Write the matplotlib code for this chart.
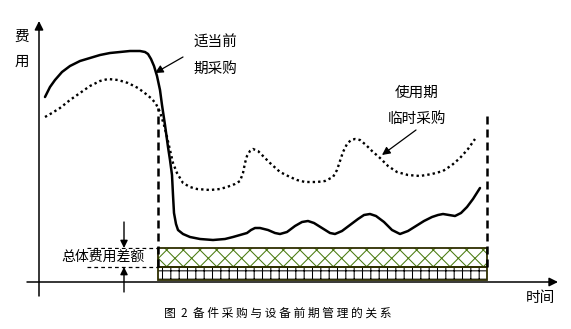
import matplotlib
matplotlib.use("Agg")
import matplotlib.pyplot as plt
from matplotlib.patches import Rectangle

plt.rcParams['font.family'] = ['Noto Sans CJK SC', 'DejaVu Sans']
plt.rcParams['hatch.linewidth'] = 0.75

# Cost with timely up-front procurement (solid curve)
t_early = [6, 11, 16, 23, 31, 41, 51, 61, 71, 81, 91, 101, 106, 109, 112, 115, 118,
           121, 123, 126, 129, 131, 133, 134, 135, 137, 139, 144, 151, 161, 174, 186,
           194, 201, 208, 212, 216, 221, 229, 236, 241, 248, 256, 263, 269, 275, 283,
           291, 296, 303, 311, 319, 325, 331, 337, 345, 353, 361, 369, 377, 385, 393,
           399, 404, 410, 416, 422, 428, 434, 441]
c_early = [185, 195, 202, 210, 216, 221, 224, 227, 229, 230, 231, 231, 230, 228, 223,
           216, 206, 192, 177, 157, 135, 122, 107, 87, 69, 58, 52, 48, 45, 43, 42, 43,
           45, 47, 49, 52, 54, 54, 52, 49, 48, 50, 56, 60, 61, 59, 54, 49, 48, 51, 57,
           63, 67, 68, 66, 60, 52, 48, 51, 56, 61, 65, 67, 68, 67, 66, 69, 75, 83, 94]

# Cost with ad-hoc purchasing during the usage period (dotted curve)
t_adhoc = [6, 13, 21, 31, 41, 51, 61, 69, 79, 89, 99, 107, 113, 117, 121, 125, 128,
           131, 134, 138, 144, 151, 158, 171, 181, 188, 196, 201, 204, 206, 208, 211,
           214, 219, 224, 231, 241, 251, 258, 266, 278, 286, 294, 298, 301, 304, 308,
           312, 316, 321, 327, 333, 341, 349, 358, 369, 381, 393, 404, 413, 421, 429, 436]
c_adhoc = [165, 169, 174, 182, 189, 196, 201, 203, 202, 199, 194, 188, 183, 178, 170,
           157, 145, 132, 119, 109, 99, 95, 93, 92, 93, 95, 98, 101, 109, 119, 126, 131,
           133, 131, 126, 119, 110, 105, 102, 100, 100, 101, 105, 112, 121, 130, 138,
           142, 143, 142, 137, 131, 124, 116, 110, 107, 106, 108, 111, 117, 124, 133, 143]

# Usage period boundaries and cost bands
phase_start, phase_end = 119, 448
phase_top = [174, 170]
base_band = (2, 15)
diff_band = (15, 34)

fig = plt.figure(figsize=(5.71, 3.29), dpi=100)
ax = fig.add_axes([0, 0, 1, 1])
ax.set_xlim(-39, 532)
ax.set_ylim(-47, 282)
ax.axis('off')

# axes with arrow heads
arrow_kw = dict(arrowstyle='-|>', lw=1.1, color='black', mutation_scale=13,
                shrinkA=0, shrinkB=0)
ax.annotate('', xy=(519, 0), xytext=(-12, 0), arrowprops=arrow_kw)
ax.annotate('', xy=(0, 261), xytext=(0, -14), arrowprops=arrow_kw)

# cost bands
w = phase_end - phase_start
ax.add_patch(Rectangle((phase_start, base_band[0]), w, base_band[1] - base_band[0],
                       facecolor='white', edgecolor='black', hatch='++', lw=0))
ax.add_patch(Rectangle((phase_start, diff_band[0]), w, diff_band[1] - diff_band[0],
                       facecolor='white', edgecolor='#4a7a10', hatch='xx', lw=0))
for lo, hi in (base_band, diff_band):
    ax.add_patch(Rectangle((phase_start, lo), w, hi - lo, fill=False,
                           edgecolor='#2e2e00', lw=1.3))

# period boundaries
ax.plot([phase_start, phase_start], [diff_band[0], phase_top[0]], color='black',
        lw=1.8, dashes=(3.2, 2.0))
ax.plot([phase_end, phase_end], [diff_band[0], phase_top[1]], color='black',
        lw=1.8, dashes=(3.2, 2.0))

# curves
ax.plot(t_early, c_early, color='black', lw=1.8, solid_joinstyle='round',
        solid_capstyle='round')
ax.plot(t_adhoc, c_adhoc, color='black', lw=1.7, dashes=(1.0, 1.3),
        dash_capstyle='butt')

# total cost difference marker
for lv in diff_band[::-1]:
    ax.plot([48, phase_start], [lv, lv], color='black', lw=0.9, dashes=(3, 2.5))
small_arrow = dict(arrowstyle='-|>', lw=1.0, color='black', mutation_scale=11,
                   shrinkA=0, shrinkB=0)
ax.annotate('', xy=(85, diff_band[1]), xytext=(85, 60), arrowprops=small_arrow)
ax.annotate('', xy=(85, diff_band[0]), xytext=(85, -10), arrowprops=small_arrow)
ax.text(64, 25, '总体费用差额', fontsize=10, ha='center', va='center',
        bbox=dict(facecolor='white', edgecolor='none', pad=0.5))

# labels
ax.text(-17, 245, '费', fontsize=10.5, ha='center', va='center')
ax.text(-17, 220, '用', fontsize=10.5, ha='center', va='center')
ax.text(501, -16, '时间', fontsize=10.5, ha='center', va='center')
ax.text(176, 239, '适当前', fontsize=10.5, ha='center', va='center')
ax.text(176, 213, '期采购', fontsize=10.5, ha='center', va='center')
ax.text(378, 189, '使用期', fontsize=10.5, ha='center', va='center')
ax.text(378, 163, '临时采购', fontsize=10.5, ha='center', va='center')

note_arrow = dict(arrowstyle='-|>', lw=0.9, color='black', mutation_scale=12,
                  shrinkA=0, shrinkB=0)
ax.annotate('', xy=(116, 209), xytext=(144, 225), arrowprops=note_arrow)
ax.annotate('', xy=(343, 127), xytext=(377, 152), arrowprops=note_arrow)

ax.text(239, -31, '图  2  备 件 采 购 与 设 备 前 期 管 理 的 关 系', fontsize=8.5,
        ha='center', va='center')

fig.savefig('out.png', dpi=100)
